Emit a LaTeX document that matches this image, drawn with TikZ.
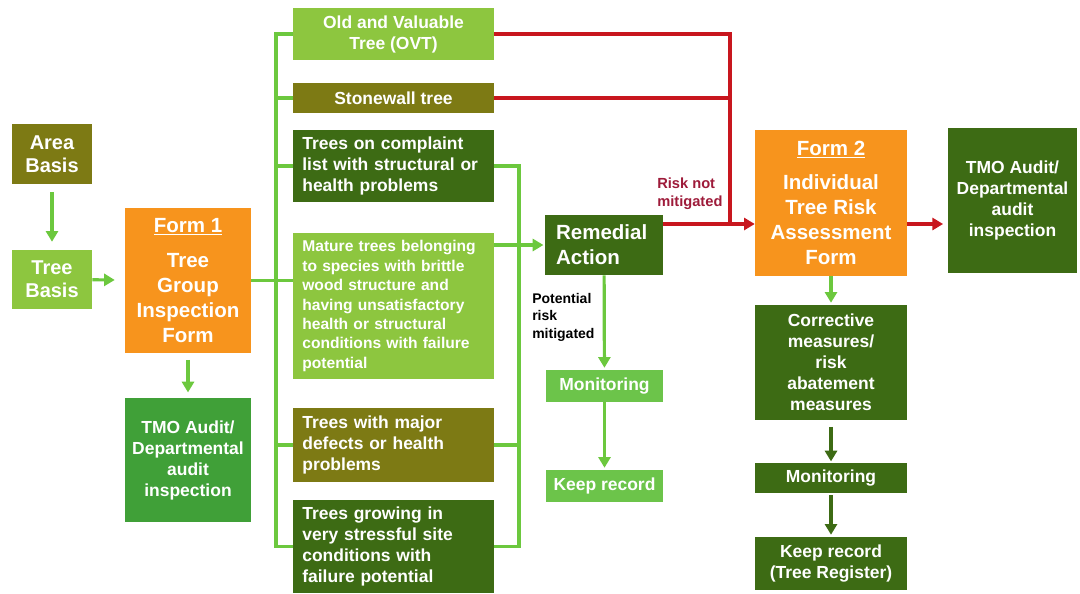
\documentclass[tikz,border=0pt]{standalone}
\usepackage{fontspec}
\setmainfont{Liberation Sans}
\usetikzlibrary{arrows.meta}
\hyphenpenalty=10000
\exhyphenpenalty=10000
\definecolor{lg}{HTML}{8DC63F}
\definecolor{olv}{HTML}{7D7A14}
\definecolor{dg}{HTML}{3D6B14}
\definecolor{mg}{HTML}{40A038}
\definecolor{bg}{HTML}{6CC44A}
\definecolor{org}{HTML}{F7941D}
\definecolor{cg}{HTML}{6CC83E}
\definecolor{rd}{HTML}{C8161E}
\definecolor{rtxt}{HTML}{9E1B3A}
\begin{document}
\begin{tikzpicture}[x=0.75pt,y=-0.75pt,
  box/.style={rectangle, inner sep=0pt, text=white, align=center},
  sz/.style 2 args={minimum width=#1*0.75pt, minimum height=#2*0.75pt},
  fA/.style={font=\fontsize{13.1}{15.75}\selectfont\bfseries},
  fB/.style={font=\fontsize{11.7}{14.6}\selectfont\bfseries},
  fC/.style={font=\fontsize{15.4}{18.75}\selectfont\bfseries},
  fD/.style={font=\fontsize{15}{17.25}\selectfont\bfseries},
  colbox/.style={box, align=left, text width=136.75pt, inner xsep=7pt},
  lbl/.style={anchor=north west, align=left, inner sep=0pt},
  tip/.style={-{Triangle[width=9pt,length=8pt]}},
  gline/.style={draw=cg, line width=2.4pt},
  dline/.style={draw=dg, line width=2.4pt},
  rline/.style={draw=rd, line width=2.4pt},
]
\useasboundingbox[fill=white] (0,0) rectangle (1080,593);

% left column
\node[box, fD, fill=olv, sz={80}{60}] (area) at (52,154) {Area\\Basis};
\node[box, fD, fill=lg, sz={80}{59}] (treeb) at (52,279.5) {Tree\\Basis};
\node[box, fC, fill=org, sz={126}{145}] (form1) at (188,280.5) {\underline{Form 1}\\[8pt]Tree\\Group\\Inspection\\Form};
\node[box, fA, fill=mg, sz={126}{124}] (tmo1) at (188,460) {TMO Audit/\\Departmental\\audit\\inspection};

% second column
\node[box, fA, fill=lg, sz={201}{52}] (ovt) at (393.5,34) {Old and Valuable\\Tree (OVT)};
\node[box, fA, fill=olv, sz={201}{30}] (stone) at (393.5,98) {Stonewall tree};
\node[colbox, fA, fill=dg, sz={201}{72}] (compl) at (393.5,166) {Trees on complaint\\list with structural or\\health problems};
\node[colbox, fB, fill=lg, sz={201}{146}] (mature) at (393.5,306) {Mature trees belonging\\to species with brittle\\wood structure and\\having unsatisfactory\\health or structural\\conditions with failure\\potential};
\node[colbox, fA, fill=olv, sz={201}{74}] (major) at (393.5,445) {Trees with major\\defects or health\\problems};
\node[colbox, fA, fill=dg, sz={201}{93}] (grow) at (393.5,546.5) {Trees growing in\\very stressful site\\conditions with\\failure potential};

% middle
\node[box, fC, fill=dg, sz={118}{60}, align=left, text width=72pt] (rem) at (604,245) {Remedial\\Action};
\node[box, fA, fill=bg, sz={117}{32}] (mon1) at (604.5,386) {Monitoring};
\node[box, fA, fill=bg, sz={117}{32}] (keep1) at (604.5,486) {Keep record};

% right
\node[box, fC, fill=org, sz={152}{146}] (form2) at (831,203) {\underline{Form 2}\\[7pt]Individual\\Tree Risk\\Assessment\\Form};
\node[box, fA, fill=dg, sz={129}{145}] (tmo2) at (1012.5,200.5) {TMO Audit/\\Departmental\\audit\\inspection};
\node[box, fA, fill=dg, sz={152}{115}] (corr) at (831,362.5) {Corrective\\measures/\\risk\\abatement\\measures};
\node[box, fA, fill=dg, sz={152}{30}] (mon2) at (831,478) {Monitoring};
\node[box, fA, fill=dg, sz={152}{53}] (keep2) at (831,563.5) {Keep record\\(Tree Register)};

% labels
\node[lbl, text=rtxt, font=\fontsize{11}{13.3}\selectfont\bfseries] (risklbl) at (657,178) {Risk not\\mitigated};
\node[lbl, text=black, font=\fontsize{10.5}{13}\selectfont\bfseries] (potlbl) at (532,293) {Potential\\risk\\mitigated};

% coordinates
\coordinate (t) at (276,283);
\coordinate (c) at (519,166);
\coordinate (r) at (730,224);

% left connectors
\draw[gline, tip, shorten <=6pt, shorten >=6pt] (area) -- (treeb);
\draw[gline, tip, shorten >=7.5pt] (treeb) -- (form1);
\draw[gline, tip, shorten <=5pt, shorten >=4pt] (form1) -- (tmo1);

% trunk
\draw[gline] (form1.east) -- (mature.west |- form1.east);
\draw[gline] (ovt.west) -| (t |- grow.west) -- (grow.west);
\draw[gline] (t |- stone.west) -- (stone.west);
\draw[gline] (t |- compl.west) -- (compl.west);
\draw[gline] (t |- major.west) -- (major.west);

% collector
\draw[gline] (compl.east) -| (c |- grow.east) -- (grow.east);
\draw[gline] (major.east) -- (c |- major.east);
\draw[gline, tip, shorten >=1pt] (mature.east |- rem.west) -- (rem.west);

% middle chain
\draw[gline, tip, shorten >=1.5pt] (rem) -- (mon1);
\draw[gline, tip, shorten >=1.5pt] (mon1) -- (keep1);

% red
\draw[rline] (ovt.east) -| (r);
\draw[rline] (stone.east) -- (stone.east -| r);
\draw[rline, tip] (rem.east |- r) -- (form2.west |- r);
\draw[rline, tip, shorten >=3.5pt] (form2.east |- r) -- (tmo2.west |- r);

% right chain
\draw[gline, tip, shorten >=1.5pt] (form2) -- (corr);
\draw[dline, tip, shorten <=5pt, shorten >=1pt] (corr) -- (mon2);
\draw[dline, tip, shorten <=1.5pt, shorten >=1.5pt] (mon2) -- (keep2);
\end{tikzpicture}
\end{document}
